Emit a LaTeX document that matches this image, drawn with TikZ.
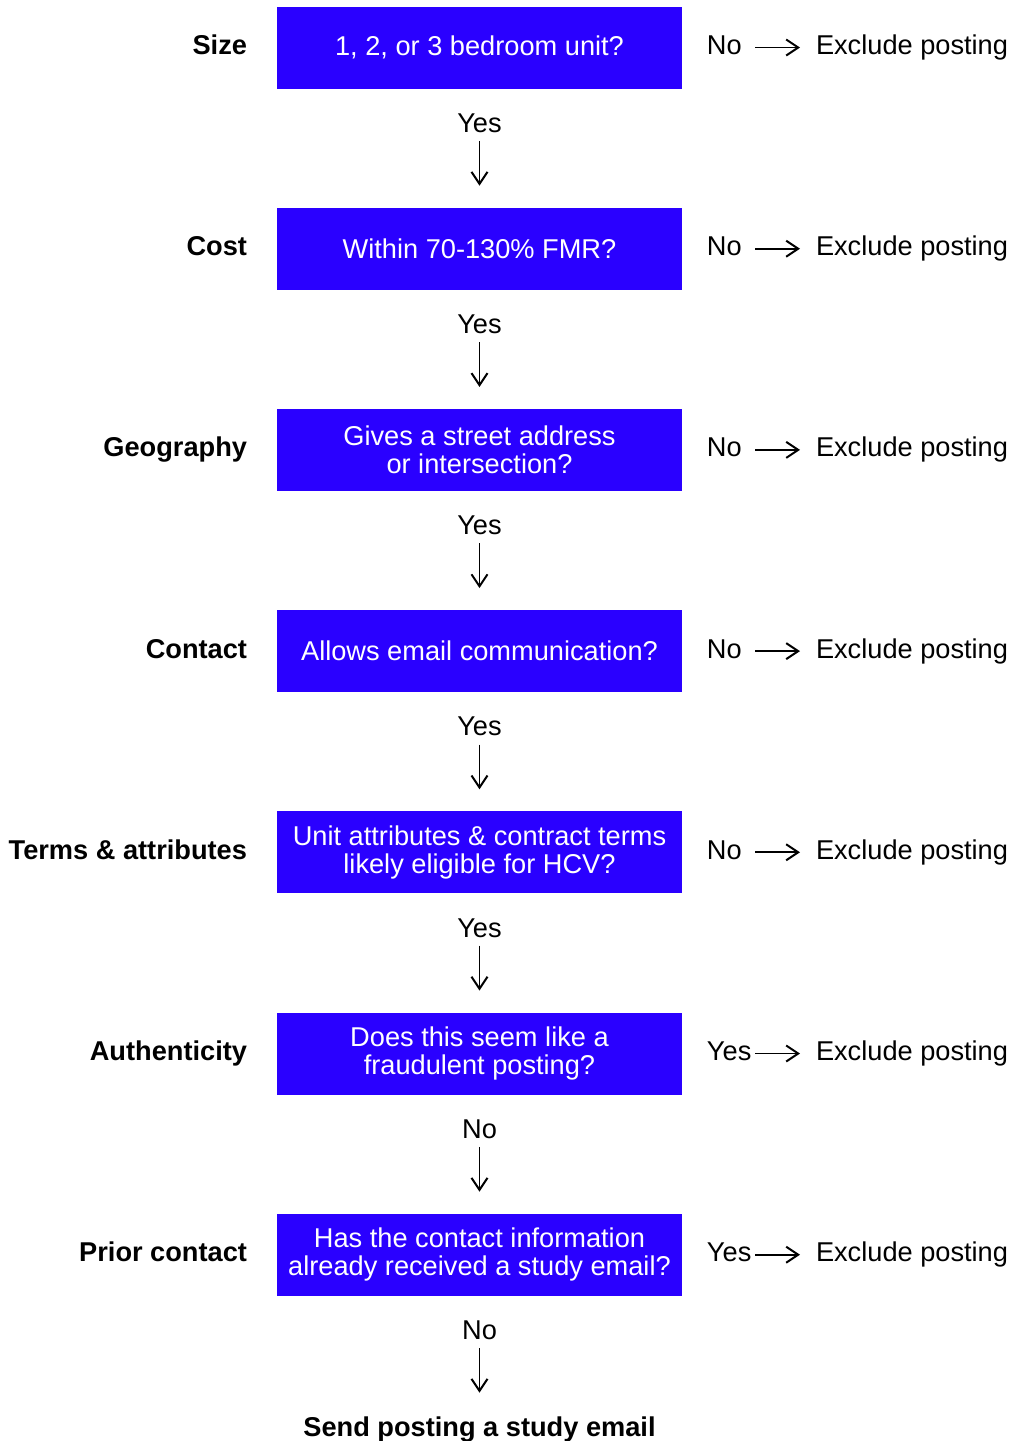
\documentclass[tikz,border=0pt]{standalone}
\usepackage{fontspec}
\setmainfont{Liberation Sans}
\usetikzlibrary{arrows.meta, positioning}

\definecolor{CheckBlue} {RGB}{ 42,  0,255}
\definecolor{InkBlack}  {RGB}{  0,  0,  0}

\tikzset{
  % Screening question box
  checkbox/.style={
    rectangle, fill=CheckBlue, draw=none,
    font=\fontsize{13.6}{14}\selectfont, text=white,
    inner sep=0pt, outer sep=0pt,
    minimum width=202.5pt, minimum height=41pt,
    align=center
  },
  % Criterion name left of each box
  criterion/.style={
    font=\fontsize{13.6}{14}\selectfont\bfseries, text=InkBlack,
    inner sep=0pt, outer sep=0pt,
    text height=9.7pt, text depth=2.8pt
  },
  % Plain answer / outcome text
  answer/.style={
    font=\fontsize{13.6}{14}\selectfont, text=InkBlack,
    inner sep=0pt, outer sep=0pt,
    text height=9.7pt, text depth=2.8pt
  },
  % Answer beside box (fixed width so arrows line up)
  sideanswer/.style={
    answer, text width=24pt, align=left
  },
  % Down arrows between questions
  downarrow/.style={
    -{Straight Barb[length=6pt, width=8pt, line width=1pt]}, line width=0.9pt,
    color=InkBlack, shorten <=1.5pt, shorten >=11pt
  },
  % Arrows to exclusion
  sidearrow/.style={
    -{Straight Barb[length=6pt, width=8pt, line width=1pt]}, line width=0.9pt,
    color=InkBlack, shorten >=8pt
  }
}

\newcommand{\Check}[6]{
  \node[checkbox, #6] (#1) {#3};
  \node[criterion, left=15pt of #1] (#1_lab) {#2};
  \node[sideanswer, right=12.5pt of #1] (#1_ans) {#4};
  \node[answer, right=67pt of #1] (#1_out) {Exclude posting};
  \draw[sidearrow] (#1_ans) -- (#1_out);
  \node[answer, below=12.2pt of #1] (#1_pass) {#5};
}

\begin{document}
\begin{tikzpicture}

  \useasboundingbox (-239.75pt,23.75pt) rectangle (266.25pt,-696.75pt);

  % ── Screening questions ──────────────────────────────────────────────────
  \Check{q1}{Size}{1, 2, or 3 bedroom unit?}{No}{Yes}{}
  \Check{q2}{Cost}{Within 70-130\% FMR?}{No}{Yes}{below=59.6pt of q1}
  \Check{q3}{Geography}{Gives a street address\\or intersection?}{No}{Yes}{below=59.6pt of q2}
  \Check{q4}{Contact}{Allows email communication?}{No}{Yes}{below=59.6pt of q3}
  \Check{q5}{Terms \& attributes}{Unit attributes \& contract terms\\likely eligible for HCV?}{No}{Yes}{below=59.6pt of q4}
  \Check{q6}{Authenticity}{Does this seem like a\\fraudulent posting?}{Yes}{No}{below=59.6pt of q5}
  \Check{q7}{Prior contact}{Has the contact information\\already received a study email?}{Yes}{No}{below=59.6pt of q6}

  % ── Final outcome ────────────────────────────────────────────────────────
  \node[answer, font=\fontsize{13.6}{14}\selectfont\bfseries,
        below=60.5pt of q7] (send) {Send posting a study email};

  % ── Down arrows ──────────────────────────────────────────────────────────
  \draw[downarrow] (q1_pass) -- (q2);
  \draw[downarrow] (q2_pass) -- (q3);
  \draw[downarrow] (q3_pass) -- (q4);
  \draw[downarrow] (q4_pass) -- (q5);
  \draw[downarrow] (q5_pass) -- (q6);
  \draw[downarrow] (q6_pass) -- (q7);
  \draw[downarrow, shorten >=12pt] (q7_pass) -- (send);

\end{tikzpicture}
\end{document}
